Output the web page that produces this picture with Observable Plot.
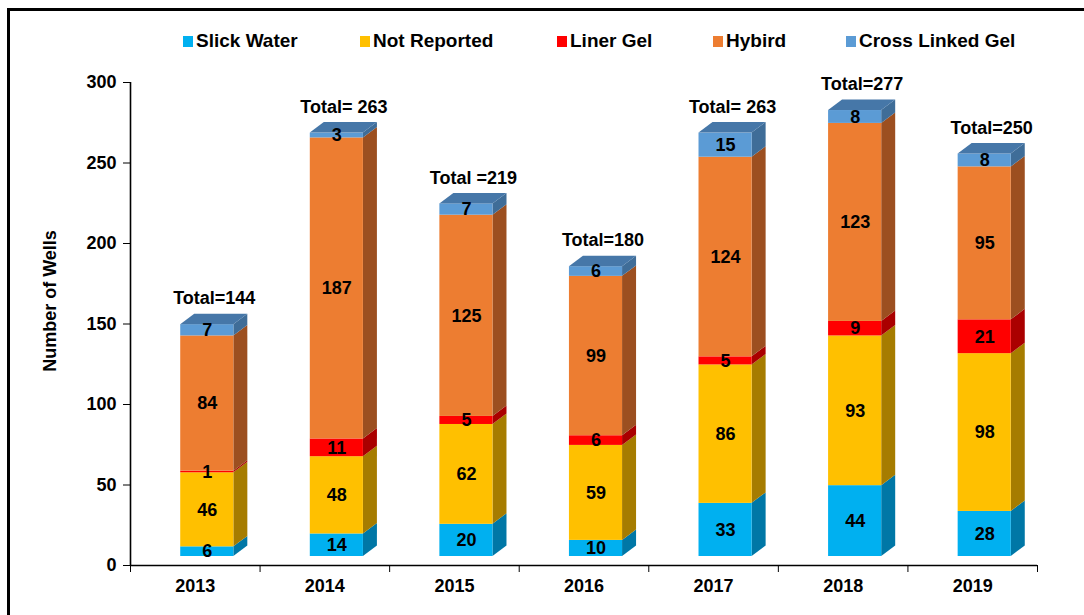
<!DOCTYPE html>
<html>
<head>
<meta charset="utf-8">
<script src="https://cdn.jsdelivr.net/npm/d3@7"></script>
<script src="https://cdn.jsdelivr.net/npm/@observablehq/plot@0.6"></script>
<style>
  body { margin: 0; background: #fff; }
  #wrap { position: relative; width: 1084px; height: 615px; overflow: hidden;
          font-family: "Liberation Sans", Arial, sans-serif; font-weight: bold; }
  #frame { position: absolute; left: 7px; top: 8px; width: 1200px; height: 800px;
           border-left: 3px solid #000; border-top: 3px solid #000; }
  #legend { position: relative; height: 60px; }
  .item { position: absolute; top: 31px; height: 20px; display: flex; align-items: center;
          font-size: 19px; color: #000; white-space: nowrap; }
  .sw { width: 10px; height: 11px; margin-right: 3px; }
  #chart { position: relative; }
  #ylabel { position: absolute; left: 50px; top: 301px; transform: translate(-50%, -50%) rotate(-90deg);
            font-size: 18px; white-space: nowrap; color: #000; z-index: 2; }
</style>
</head>
<body>
<div id="wrap">
  <div id="frame"></div>
  <div id="legend"></div>
  <div id="chart"></div>
  <div id="ylabel">Number of Wells</div>
</div>
<script>
// ---- data ----
const years = [2013, 2014, 2015, 2016, 2017, 2018, 2019];
const seriesNames = ["Slick Water", "Not Reported", "Liner Gel", "Hybird", "Cross Linked Gel"];
const slickWater   = [6, 14, 20, 10, 33, 44, 28];
const notReported  = [46, 48, 62, 59, 86, 93, 98];
const linerGel     = [1, 11, 5, 6, 5, 9, 21];
const hybird       = [84, 187, 125, 99, 124, 123, 95];
const crossLinked  = [7, 3, 7, 6, 15, 8, 8];
const totalLabels  = ["Total=144", "Total= 263", "Total =219", "Total=180", "Total= 263", "Total=277", "Total=250"];
const yTicks = [0, 50, 100, 150, 200, 250, 300];

// ---- styles ----
const frontColors = ["#00B0F0", "#FFC000", "#FF0000", "#ED7D31", "#5B9BD5"];
const sideColors  = ["#0077A6", "#A67C00", "#AA0000", "#9C4F20", "#3F6D98"];
const topColor = "#4677A8";
const legendLeft = [183, 360, 557, 713, 846];

// legend (HTML, above the svg)
const legend = document.getElementById("legend");
seriesNames.forEach((name, i) => {
  const it = document.createElement("div");
  it.className = "item";
  it.style.left = legendLeft[i] + "px";
  const sw = document.createElement("span");
  sw.className = "sw";
  sw.style.background = frontColors[i];
  it.appendChild(sw);
  it.appendChild(document.createTextNode(name));
  legend.appendChild(it);
});

// ---- build tables ----
const valueArrays = [slickWater, notReported, linerGel, hybird, crossLinked];
const HALF = 0.205;      // half width of the front face (in category units)
const DEPTH_X = 0.108;   // 3D depth, horizontal (category units)
const DEPTH_Y = 6.5;     // 3D depth, vertical (value units)

const segments = [];
const sides = [];
const tops = [];
const totals = [];
years.forEach((year, j) => {
  let acc = 0;
  valueArrays.forEach((arr, i) => {
    const v = arr[j];
    const seg = {year, series: seriesNames[i], value: v, y1: acc, y2: acc + v,
                 front: frontColors[i], side: sideColors[i]};
    segments.push(seg);
    const key = year + "-" + i;
    sides.push({key, side: seg.side, x: year + HALF, lo: seg.y1, hi: seg.y2});
    sides.push({key, side: seg.side, x: year + HALF + DEPTH_X, lo: seg.y1 + DEPTH_Y, hi: seg.y2 + DEPTH_Y});
    acc += v;
  });
  tops.push({year, y: acc, a: year - HALF, b: year + HALF});
  tops.push({year, y: acc + DEPTH_Y, a: year - HALF + DEPTH_X, b: year + HALF + DEPTH_X});
  totals.push({year, total: acc, label: totalLabels[j]});
});
const boundaries = d3.range(years.length + 1).map(k => years[0] - 0.5 + k);

const font = {fontSize: 18, fontWeight: "bold"};
const OX = 12, OY = -9;

const chart = Plot.plot({
  width: 1084,
  height: 555,
  marginTop: 22,
  marginBottom: 50,
  marginLeft: 130,
  marginRight: 47,
  style: {fontFamily: "'Liberation Sans', Arial, sans-serif", fontSize: "18px", fontWeight: "bold", background: "transparent", overflow: "visible", color: "#000"},
  x: {type: "linear", domain: [years[0] - 0.5, years[years.length - 1] + 0.5], axis: null},
  y: {domain: [0, 300], axis: null},
  color: {type: "identity"},
  marks: [
    // 3D side faces
    Plot.areaY(sides, {x: "x", y1: "lo", y2: "hi", z: "key", fill: "side", dx: OX, dy: OY}),
    // front faces
    Plot.rectY(segments, {x1: d => d.year - HALF, x2: d => d.year + HALF, y1: "y1", y2: "y2", fill: "front", dx: OX, dy: OY}),
    // top faces
    Plot.areaX(tops, {y: "y", x1: "a", x2: "b", z: "year", fill: topColor, dx: OX, dy: OY}),
    // axes
    Plot.ruleX([years[0] - 0.5], {y1: 0, y2: 300, stroke: "#000", strokeWidth: 1.6}),
    Plot.ruleY([0], {stroke: "#000", strokeWidth: 1.6}),
    Plot.axisY(yTicks, {anchor: "left", tickSize: 7, tickPadding: 7, tickFormat: d => String(d), label: null, stroke: "#000", ...font}),
    Plot.axisX(boundaries, {anchor: "bottom", tickSize: 7, tickFormat: () => "", label: null, stroke: "#000"}),
    Plot.axisX(years, {anchor: "bottom", tickSize: 0, tickPadding: 14, tickFormat: d => String(d), label: null, ...font}),
    // value labels
    Plot.text(segments, {x: "year", y: d => (d.y1 + d.y2) / 2, text: d => String(d.value), dx: OX, dy: OY, fill: "#000", ...font}),
    // totals
    Plot.text(totals, {x: "year", y: "total", text: "label", dx: 19, dy: -35, fill: "#000", ...font})
  ]
});
document.getElementById("chart").appendChild(chart);
</script>
</body>
</html>
